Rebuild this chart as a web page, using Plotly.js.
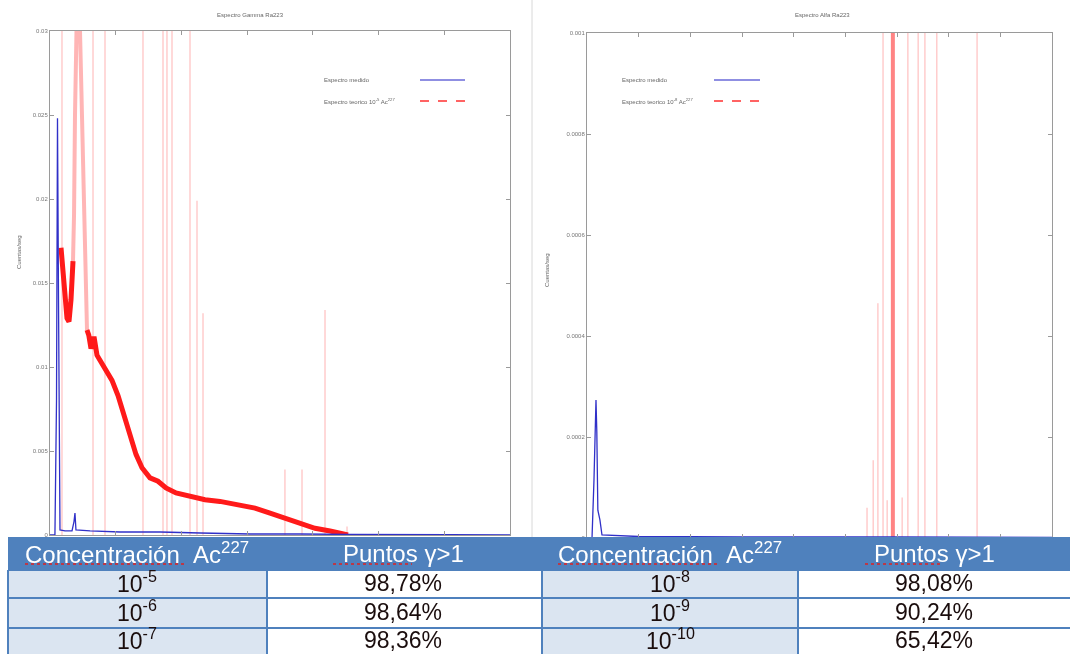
<!DOCTYPE html>
<html>
<head>
<meta charset="utf-8">
<script src="https://cdn.plot.ly/plotly-3.0.1.min.js"></script>
<style>
  html, body { margin: 0; padding: 0; background: #ffffff; }
  #chart { width: 1070px; height: 654px; }
  /* the spectra come from low-resolution exports: soften the plotting area */
  #chart .cartesianlayer { filter: blur(0.45px); }
</style>
</head>
<body>
<div id="chart"></div>
<script>
// ---------- Espectro Gamma Ra223 (energía, cuentas/seg) ----------
const gammaMeasX = [0, 15, 19.8, 22.8, 25.9, 30.4, 45.7, 67, 73, 76, 79, 122, 213, 335, 457, 609, 761, 913, 1217, 1400];
const gammaMeasY = [0, 0, 0.008, 0.0248, 0.014, 0.0003, 0.00024, 0.00024, 0.0008, 0.0013, 0.0003, 0.00024, 0.00018, 0.00018, 0.00012, 0.00006, 0.00006, 0.00003, 0.00002, 0.00001];

// continuo del espectro teórico (null = tramo del pico ancho)
const gammaTheoX = [33.5, 42.6, 51.7, 57.8, 63.9, 70.0, 90, 112.6, 118, 124.8, 133.9, 143, 155.2, 170.4, 188.7, 207, 225.2, 243.5, 261.7, 280, 304.3, 328.7, 353, 383.5, 426.1, 471.7, 517.4, 578.3, 623.9, 669.6, 715.2, 760.9, 806.5, 852.2, 880, 907];
const gammaTheoY = [0.0171, 0.0152, 0.0129, 0.0127, 0.0140, 0.0163, null, 0.0122, 0.0119, 0.0111, 0.0118, 0.0107, 0.0103, 0.0097, 0.0092, 0.0083, 0.0071, 0.0058, 0.0048, 0.0040, 0.0034, 0.0032, 0.0028, 0.0025, 0.0023, 0.0021, 0.0020, 0.0018, 0.0016, 0.0013, 0.0010, 0.00065, 0.0004, 0.00024, 0.00012, 0.0];

// pico ancho que sale de escala
const gammaBroadX = [70.0, 73.1, 76.1, 79.1, 85.2, 91.3, 100.4, 106.5, 112.6];
const gammaBroadY = [0.0163, 0.0190, 0.0250, 0.0350, 0.0350, 0.0300, 0.0230, 0.0168, 0.0122];

// líneas del espectro teórico (picos), con su altura máxima
const gammaPeakX   = [36.5, 130.9, 167.4, 283, 343.9, 356, 371.3, 426.1, 447.4, 465.7, 715, 767, 837, 904];
const gammaPeakTop = [1, 1, 1, 1, 1, 1, 1, 1, 0.0199, 0.0132, 0.0039, 0.0039, 0.0134, 0.0005];

// ---------- Espectro Alfa Ra223 (energía MeV, cuentas/seg) ----------
const alphaMeasX = [0, 0.097, 0.135, 0.174, 0.19, 0.21, 0.25, 0.29, 1.0, 3.0, 6.0, 9.0];
const alphaMeasY = [0, 0, 0.000115, 0.000273, 0.00021, 0.000055, 0.000036, 0.000006, 0.000003, 0.000002, 0.000002, 0.000001];

const alphaPeakX   = [5.42, 5.54, 5.63, 5.73, 5.81, 6.10, 6.21, 6.41, 6.54, 6.77, 7.55];
const alphaPeakTop = [0.00006, 0.000154, 0.000465, 1, 0.000075, 0.00008, 1, 1, 1, 1, 1];
const alphaMainPeakX   = [5.92];
const alphaMainPeakTop = [1];

// ---------- Ejes ----------
const gammaTickVals = [0, 0.005, 0.01, 0.015, 0.02, 0.025, 0.03];
const gammaTickText = ['0', '0.005', '0.01', '0.015', '0.02', '0.025', '0.03'];
const alphaTickVals = [0, 0.0002, 0.0004, 0.0006, 0.0008, 0.001];
const alphaTickText = ['0', '0.0002', '0.0004', '0.0006', '0.0008', '0.001'];

// ---------- Tabla ----------
const tableHeader = ['Concentración\u00a0\u00a0Ac<sup>227</sup>', 'Puntos γ>1'];
const concExpLeft  = [-5, -6, -7];
const pointsLeft   = ['98,78%', '98,64%', '98,36%'];
const concExpRight = [-8, -9, -10];
const pointsRight  = ['98,08%', '90,24%', '65,42%'];

// ---------- helpers: pixel -> paper ----------
const W = 1070, H = 654;
const PX = x => x / W;
const PY = y => 1 - y / H;

function spikes(xs, tops) {
  const x = [], y = [];
  xs.forEach((v, i) => { x.push(v, v, null); y.push(0, tops[i], null); });
  return { x, y };
}

const gSp = spikes(gammaPeakX, gammaPeakTop);
const aSp = spikes(alphaPeakX, alphaPeakTop);
const aMain = spikes(alphaMainPeakX, alphaMainPeakTop);

const traces = [
  { x: gSp.x, y: gSp.y, xaxis: 'x', yaxis: 'y', mode: 'lines',
    line: { color: 'rgba(255,110,110,0.35)', width: 1.5 }, hoverinfo: 'skip', showlegend: false },
  { x: gammaBroadX, y: gammaBroadY, xaxis: 'x', yaxis: 'y', mode: 'lines',
    line: { color: 'rgba(255,90,90,0.45)', width: 4 }, hoverinfo: 'skip', showlegend: false },
  { x: gammaTheoX, y: gammaTheoY, xaxis: 'x', yaxis: 'y', mode: 'lines', connectgaps: false,
    line: { color: '#ff1a1a', width: 5 }, showlegend: false },
  { x: gammaMeasX, y: gammaMeasY, xaxis: 'x', yaxis: 'y', mode: 'lines',
    line: { color: '#3030c8', width: 1.3 }, showlegend: false },

  { x: aSp.x, y: aSp.y, xaxis: 'x2', yaxis: 'y2', mode: 'lines',
    line: { color: 'rgba(255,110,110,0.35)', width: 1.5 }, hoverinfo: 'skip', showlegend: false },
  { x: aMain.x, y: aMain.y, xaxis: 'x2', yaxis: 'y2', mode: 'lines',
    line: { color: 'rgba(255,80,80,0.7)', width: 4 }, hoverinfo: 'skip', showlegend: false },
  { x: alphaMeasX, y: alphaMeasY, xaxis: 'x2', yaxis: 'y2', mode: 'lines',
    line: { color: '#3030c8', width: 1.3 }, showlegend: false }
];

const axisStyle = {
  showline: true, mirror: 'allticks', linecolor: '#9a9a9a', linewidth: 1,
  ticks: 'inside', ticklen: 4, tickcolor: '#9a9a9a', showgrid: false, zeroline: false,
  tickfont: { family: 'Liberation Sans, Arial, sans-serif', size: 6, color: '#777' }
};

const layout = {
  width: W, height: H,
  margin: { l: 0, r: 0, t: 0, b: 0 },
  paper_bgcolor: '#ffffff', plot_bgcolor: '#ffffff',
  showlegend: false,
  xaxis: Object.assign({}, axisStyle, { domain: [PX(50), PX(510)], range: [0, 1400], dtick: 200, showticklabels: false, anchor: 'y' }),
  yaxis: Object.assign({}, axisStyle, { domain: [PY(535), PY(31)], range: [0, 0.03], tickvals: gammaTickVals, ticktext: gammaTickText, anchor: 'x' }),
  xaxis2: Object.assign({}, axisStyle, { domain: [PX(587), PX(1052)], range: [0, 9], dtick: 1, showticklabels: false, anchor: 'y2' }),
  yaxis2: Object.assign({}, axisStyle, { domain: [PY(538), PY(33)], range: [0, 0.001], tickvals: alphaTickVals, ticktext: alphaTickText, anchor: 'x2' }),
  shapes: [],
  annotations: []
};

const small = { family: 'Liberation Sans, Arial, sans-serif', size: 6, color: '#666' };
function note(text, x, y, opts) {
  layout.annotations.push(Object.assign({
    text, x: PX(x), y: PY(y), xref: 'paper', yref: 'paper', showarrow: false,
    xanchor: 'center', yanchor: 'middle', font: small
  }, opts || {}));
}
function seg(x0, y0, x1, y1, line) {
  layout.shapes.push({ type: 'line', xref: 'paper', yref: 'paper', x0: PX(x0), y0: PY(y0), x1: PX(x1), y1: PY(y1), line, layer: 'above' });
}
function box(x0, y0, x1, y1, fill) {
  layout.shapes.push({ type: 'rect', xref: 'paper', yref: 'paper', x0: PX(x0), y0: PY(y0), x1: PX(x1), y1: PY(y1), fillcolor: fill, line: { width: 0 }, layer: 'above' });
}

// títulos y ejes
note('Espectro Gamma Ra223', 250, 15);
note('Espectro Alfa Ra223', 822, 15);
note('Cuentas/seg', 19, 252, { textangle: -90 });
note('Cuentas/seg', 547, 270, { textangle: -90 });
seg(532, 0, 532, 537, { color: '#d8d8d8', width: 1 });

// leyendas
note('Espectro medido', 322, 80, { xanchor: 'left' });
note('Espectro teorico 10<sup>-5</sup> Ac<sup>227</sup>', 322, 101, { xanchor: 'left' });
seg(420, 80, 465, 80, { color: '#6a6ad8', width: 1.5 });
seg(420, 101, 465, 101, { color: '#ff3030', width: 1.5, dash: 'dash' });
note('Espectro medido', 620, 80, { xanchor: 'left' });
note('Espectro teorico 10<sup>-8</sup> Ac<sup>227</sup>', 620, 101, { xanchor: 'left' });
seg(714, 80, 760, 80, { color: '#6a6ad8', width: 1.5 });
seg(714, 101, 760, 101, { color: '#ff3030', width: 1.5, dash: 'dash' });

// ---------- tabla ----------
const blue = '#4f81bd', pale = '#dbe5f1';
box(0, 537, W, H, '#ffffff');
box(8, 537, W, 570, blue);
box(8, 570, 267, H, pale);
box(542, 570, 798, H, pale);
[570, 598, 628].forEach(y => seg(8, y, W, y, { color: blue, width: 2 }));
[8, 267, 542, 798].forEach(x => seg(x, 570, x, H, { color: blue, width: 2 }));

const headFont = { family: 'Liberation Sans, Arial, sans-serif', size: 24, color: '#ffffff' };
const bodyFont = { family: 'Liberation Sans, Arial, sans-serif', size: 23, color: '#1a0d0d' };
const colCenters = [[137, 403], [670, 934]];
colCenters.forEach(c => {
  note(tableHeader[0], c[0], 553, { font: headFont });
  note(tableHeader[1], c[1], 553, { font: headFont });
});
// subrayado del corrector ortográfico
seg(25, 564, 185, 564, { color: '#e02020', width: 1.5, dash: 'dot' });
seg(333, 564, 412, 564, { color: '#e02020', width: 1.5, dash: 'dot' });
seg(558, 564, 718, 564, { color: '#e02020', width: 1.5, dash: 'dot' });
seg(865, 564, 942, 564, { color: '#e02020', width: 1.5, dash: 'dot' });

const rowCenters = [583, 612, 640];
rowCenters.forEach((y, i) => {
  note('10<sup>' + concExpLeft[i] + '</sup>', colCenters[0][0], y - 1, { font: bodyFont });
  note(pointsLeft[i], colCenters[0][1], y, { font: bodyFont });
  note('10<sup>' + concExpRight[i] + '</sup>', colCenters[1][0], y - 1, { font: bodyFont });
  note(pointsRight[i], colCenters[1][1], y, { font: bodyFont });
});

Plotly.newPlot('chart', traces, layout, { staticPlot: true, displayModeBar: false });
</script>
</body>
</html>
